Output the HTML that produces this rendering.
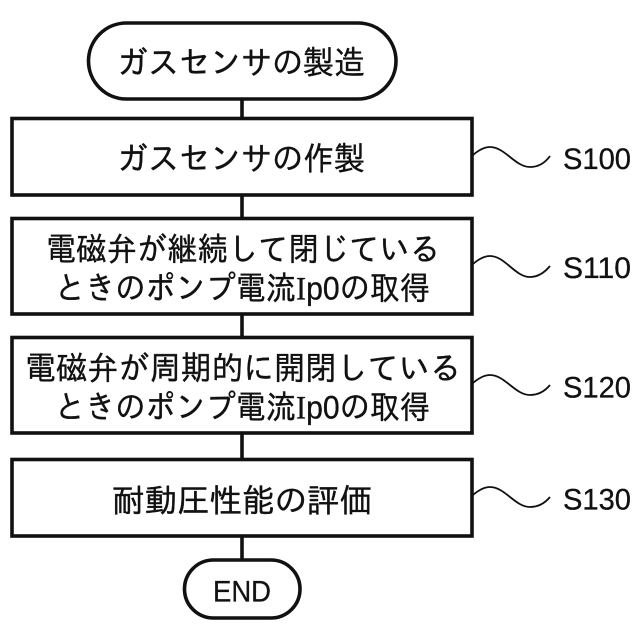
<!DOCTYPE html>
<html lang="ja">
<head>
<meta charset="utf-8">
<style>
html,body{margin:0;padding:0;background:#fff;width:640px;height:640px;overflow:hidden}
svg{display:block}
text{fill:#111}
.j{font-family:"Liberation Sans","IPAGothic","Noto Sans CJK JP",sans-serif;font-size:32.5px;text-anchor:start;stroke:#111;stroke-width:.35px}
.l{font-family:"Liberation Sans",sans-serif;font-size:29.5px;stroke:#111;stroke-width:.3px}
.s{font-family:"Liberation Serif",serif}
</style>
</head>
<body>
<svg width="640" height="640" viewBox="0 0 640 640" xmlns="http://www.w3.org/2000/svg">
<g fill="none" stroke="#111" stroke-width="3.6">
<path d="M242 99V118M242 195V218M242 314V337M242 433V459M242 536V560"/>
<rect x="88.500" y="23" width="307.500" height="76" rx="38" ry="38" fill="#fff"/>
<rect x="12" y="118.500" width="460" height="76.500" fill="#fff"/>
<rect x="12" y="218.500" width="460" height="95.500" fill="#fff"/>
<rect x="12" y="337.500" width="460" height="95.500" fill="#fff"/>
<rect x="12" y="459.500" width="460" height="76.500" fill="#fff"/>
<rect x="184.500" y="560" width="115.500" height="58" rx="29" ry="29" fill="#fff"/>
</g>
<g fill="none" stroke="#111" stroke-width="1.8">
<path d="M473 155C480 149 485 147 490 147C505 147 515 167 530 167C538 167 545 163 550 156"/>
<path d="M473 264C480 258 485 256 490 256C505 256 515 277 530 277C538 277 545 272 550 266"/>
<path d="M473 383C480 377 485 375 490 375C505 375 515 395 530 395C538 395 545 391 550 385"/>
<path d="M473 495C480 489 485 487 490 487C505 487 515 507 530 507C538 507 545 503 550 497"/>
</g>
<text class="j" x="117" y="74" textLength="248" lengthAdjust="spacingAndGlyphs">ガスセンサの製造</text>
<text class="j" x="117" y="170" textLength="248" lengthAdjust="spacingAndGlyphs">ガスセンサの作製</text>
<text class="j" x="46" y="260.500" textLength="394" lengthAdjust="spacingAndGlyphs">電磁弁が継続して閉じている</text>
<text class="j" x="55" y="299.500" textLength="375" lengthAdjust="spacingAndGlyphs">ときのポンプ電流<tspan class="s">I</tspan>p0の取得</text>
<text class="j" x="25" y="379.500" textLength="436" lengthAdjust="spacingAndGlyphs">電磁弁が周期的に開閉している</text>
<text class="j" x="55" y="418.500" textLength="375" lengthAdjust="spacingAndGlyphs">ときのポンプ電流<tspan class="s">I</tspan>p0の取得</text>
<text class="j" x="112" y="512" textLength="260" lengthAdjust="spacingAndGlyphs">耐動圧性能の評価</text>
<text class="l" x="213" y="601.500" textLength="58" lengthAdjust="spacingAndGlyphs">END</text>
<text class="l" x="563" y="169" textLength="68" lengthAdjust="spacingAndGlyphs">S100</text>
<text class="l" x="563" y="278" textLength="68" lengthAdjust="spacingAndGlyphs">S110</text>
<text class="l" x="563" y="397.500" textLength="68" lengthAdjust="spacingAndGlyphs">S120</text>
<text class="l" x="563" y="509.500" textLength="68" lengthAdjust="spacingAndGlyphs">S130</text>
</svg>
</body>
</html>
